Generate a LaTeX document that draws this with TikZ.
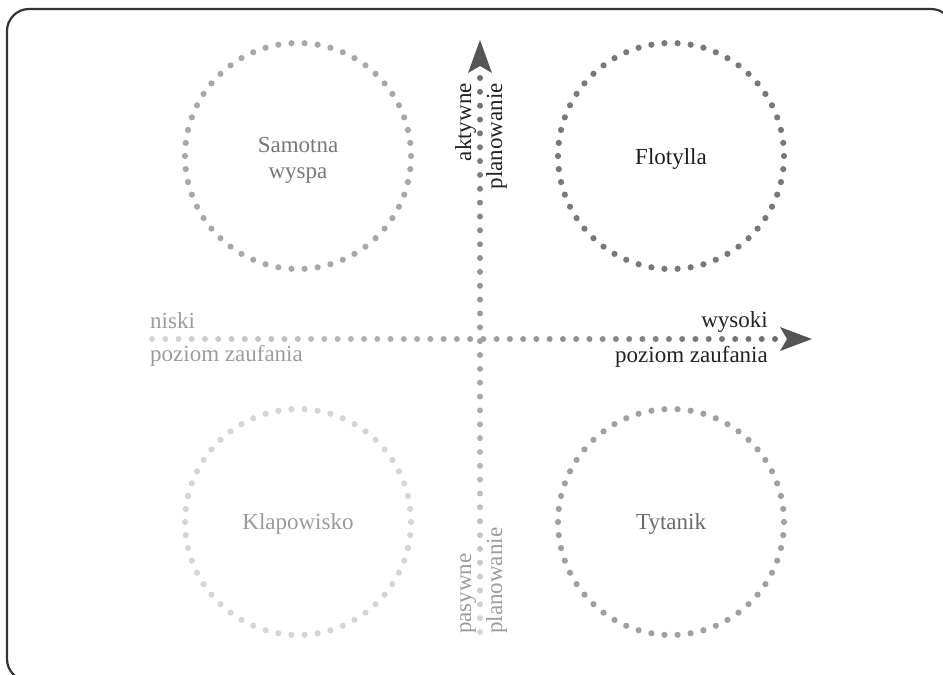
\documentclass[tikz,border=0pt]{standalone}
\usepackage{fontspec}
\setmainfont{Liberation Serif}
\usetikzlibrary{calc}
\definecolor{framec}{HTML}{333333}
\definecolor{arrowc}{HTML}{555555}
\definecolor{hlight}{HTML}{D6D6D8}
\definecolor{hdark}{HTML}{6E6E70}
\definecolor{swdot}{HTML}{A8A8AA}
\definecolor{fldot}{HTML}{78787A}
\definecolor{kldot}{HTML}{D5D5D7}
\definecolor{tydot}{HTML}{A0A0A2}
\definecolor{swtxt}{HTML}{78787A}
\definecolor{fltxt}{HTML}{1E1E1E}
\definecolor{kltxt}{HTML}{9A9A9C}
\definecolor{tytxt}{HTML}{6A6A6C}
\definecolor{lighttxt}{HTML}{9C9C9E}
\definecolor{darktxt}{HTML}{222222}
\begin{document}
\begin{tikzpicture}[x=1pt,y=-1pt,
  lbl/.style={font=\fontsize{23}{26}\selectfont, inner sep=0pt, align=center},
  axlbl/.style={font=\fontsize{23}{26}\selectfont, inner sep=0pt},
  framebox/.style={draw=framec, line width=2.2pt, rounded corners=22pt},
  arrowhd/.style={fill=arrowc, draw=none}]
\useasboundingbox (0,0) rectangle (943,675);
\draw[framebox] (7,9) rectangle (953,681);

% quadrant circles
\coordinate (cSW) at (298,156);
\coordinate (cFL) at (671,156);
\coordinate (cKL) at (298,522);
\coordinate (cTY) at (671,522);
\foreach \c/\col in {cSW/swdot, cFL/fldot, cKL/kldot, cTY/tydot}{
  \foreach \i in {0,...,53}{
    \pgfmathsetmacro\ang{\i*6.666667}
    \fill[\col] ($(\c)+(\ang:113)$) circle[radius=3.1pt];
  }
}
\node[lbl, text=swtxt] (sw) at ($(cSW)+(0,4)$) {Samotna\\wyspa};
\node[lbl, text=fltxt] (fl) at ($(cFL)+(0,3)$) {Flotylla};
\node[lbl, text=kltxt] (kl) at ($(cKL)+(0,2)$) {Klapowisko};
\node[lbl, text=tytxt] (ty) at ($(cTY)+(0,2)$) {Tytanik};

% horizontal axis
\coordinate (hL) at (152,339);
\coordinate (hR) at (775,339);
\foreach \i in {0,...,47}{
  \pgfmathsetmacro\p{100*\i/47}
  \fill[hdark!\p!hlight] ($(hL)!\i/47!(hR)$) circle[radius=3pt];
}
\coordinate (hTip) at (812,339);
\fill[arrowhd] (hTip) -- (780,327) -- (787,339) -- (780,351) -- cycle;

% vertical axis
\coordinate (vT) at (480,78);
\coordinate (vB) at (480,632);
\foreach \i in {0,...,40}{
  \pgfmathsetmacro\p{100-100*\i/40}
  \fill[hdark!\p!hlight] ($(vT)!\i/40!(vB)$) circle[radius=3pt];
}
\coordinate (vTip) at (480,40);
\fill[arrowhd] (vTip) -- (468,73) -- (480,66) -- (492,73) -- cycle;

% axis labels
\node[axlbl, text=lighttxt, anchor=base west] (niski) at (150,328) {niski};
\node[axlbl, text=lighttxt, anchor=base west] (pzL) at (150,361) {poziom zaufania};
\node[axlbl, text=darktxt, anchor=base east] (wysoki) at (768,327) {wysoki};
\node[axlbl, text=darktxt, anchor=base east] (pzR) at (768,362) {poziom zaufania};
\node[axlbl, text=darktxt, rotate=90, anchor=base east] (akt) at (471,83) {aktywne};
\node[axlbl, text=darktxt, rotate=90, anchor=base east] (planA) at (502,83) {planowanie};
\node[axlbl, text=lighttxt, rotate=90, anchor=base west] (pas) at (471,634) {pasywne};
\node[axlbl, text=lighttxt, rotate=90, anchor=base west] (planP) at (502,634) {planowanie};
\end{tikzpicture}
\end{document}
